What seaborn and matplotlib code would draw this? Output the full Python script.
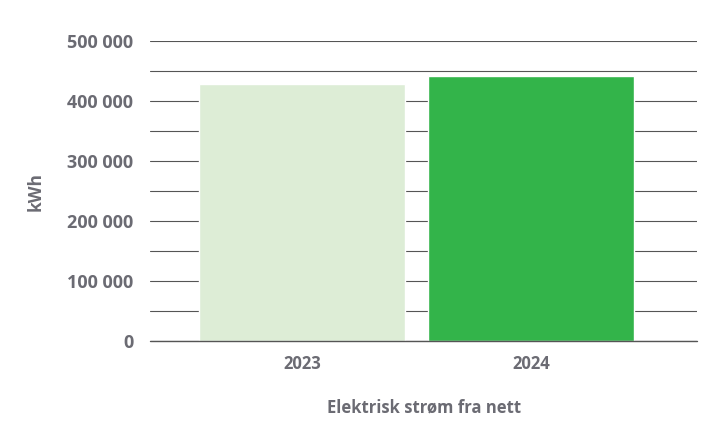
import matplotlib
matplotlib.use("Agg")
import matplotlib.pyplot as plt
import seaborn as sns
import pandas as pd
from matplotlib.ticker import FuncFormatter, MultipleLocator

years = ["2023", "2024"]
values = [428000, 441500]
colors = ["#DDEDD6", "#33B44A"]

sns.set_theme(style="white")
plt.rcParams['font.family'] = ['Open Sans', 'DejaVu Sans']
gray = "#6b6b73"

fig = plt.figure(figsize=(7.21, 4.28), dpi=100)
ax = fig.add_axes([0.208, 0.203, 0.759, 0.701])
df = pd.DataFrame({"year": years, "kwh": values})
sns.barplot(data=df, x="year", y="kwh", hue="year", palette=colors, width=0.9,
            legend=False, ax=ax, zorder=3, saturation=1)
ax.set_ylim(0, 500000)
ax.set_xlim(-0.664, 1.725)
ax.yaxis.set_major_locator(MultipleLocator(100000))
ax.yaxis.set_minor_locator(MultipleLocator(50000))
ax.yaxis.set_major_formatter(FuncFormatter(lambda v, p: f"{int(v):,}".replace(",", " ")))
ax.grid(axis="y", which="both", color="#555555", linewidth=0.8, zorder=0)
ax.axhline(0, color="#555555", linewidth=1.0, zorder=4, clip_on=False)
for s in ax.spines.values():
    s.set_visible(False)
ax.tick_params(axis="y", length=0, pad=12, labelsize=13, labelcolor=gray)
ax.tick_params(axis="x", length=0, pad=10, labelsize=12, labelcolor=gray)
for t in ax.get_yticklabels() + ax.get_xticklabels():
    t.set_fontweight("bold")
ax.set_ylabel("kWh", fontsize=12.5, fontweight="bold", color=gray, labelpad=16)
ax.set_xlabel("Elektrisk strøm fra nett", fontsize=12, fontweight="bold", color=gray, labelpad=18)
fig.savefig("out.png", dpi=100)
